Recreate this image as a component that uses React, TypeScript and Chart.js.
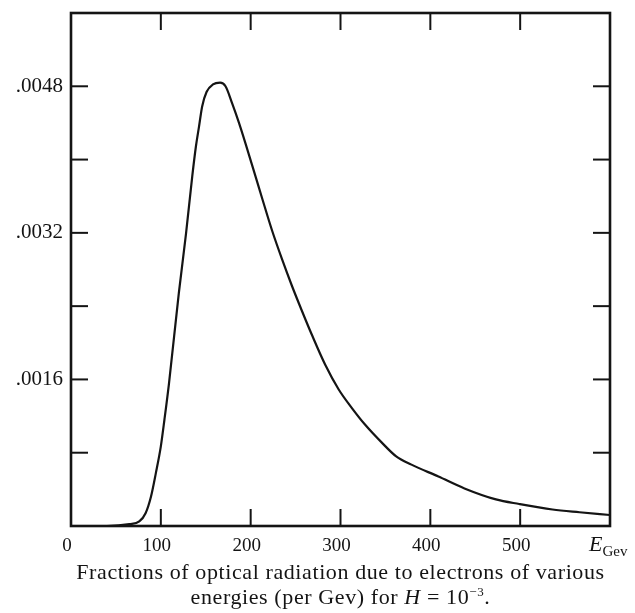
import React, { useEffect, useRef } from 'react';
import { Chart, registerables } from 'chart.js';

Chart.register(...registerables);

// Electron energy (GeV)
const energies = [0, 40, 65, 76, 83, 89, 94.5, 100, 104, 109, 120, 128, 135, 139, 142.5, 146, 151, 158, 166, 172, 179.5, 187, 201.6, 213, 224, 235, 246, 257, 268, 283, 298, 312.5, 327, 346, 362, 379, 409, 438, 473, 499, 536, 566, 600];
// Fraction of optical radiation (per GeV)
const fractions = [0, 0, 0.00002, 0.00005, 0.00014, 0.00032, 0.00058, 0.00087, 0.00116, 0.00155, 0.00254, 0.00319, 0.00382, 0.00414, 0.00436, 0.00458, 0.00474, 0.00482, 0.00484, 0.0048, 0.00461, 0.0044, 0.00394, 0.00357, 0.00322, 0.00291, 0.00262, 0.00235, 0.00209, 0.00176, 0.00149, 0.00129, 0.00111, 0.00091, 0.00076, 0.00067, 0.00054, 0.00041, 0.00029, 0.00024, 0.00018, 0.00015, 0.00012];

const xMax = 600;
const xStep = 100;
const yMax = 0.0056;
const yStep = 0.0008;
const yLabelled = [0.0016, 0.0032, 0.0048];

const INK = '#141414';
const SERIF = '"Liberation Serif", "DejaVu Serif", serif';

const framePlugin = {
  id: 'frame',
  afterDatasetsDraw(chart: any) {
    const { ctx, chartArea: a, scales } = chart;
    const xs = scales.x;
    const ys = scales.y;
    ctx.save();
    ctx.strokeStyle = INK;
    ctx.lineWidth = 2.6;
    ctx.strokeRect(a.left, a.top, a.right - a.left, a.bottom - a.top);
    ctx.lineWidth = 2;
    const len = 17;
    const seg = (x1: number, y1: number, x2: number, y2: number) => {
      ctx.beginPath();
      ctx.moveTo(x1, y1);
      ctx.lineTo(x2, y2);
      ctx.stroke();
    };
    xs.ticks.forEach((t: any) => {
      if (t.value <= xs.min + 1e-9 || t.value >= xs.max - 1e-9) return;
      const px = xs.getPixelForValue(t.value);
      seg(px, a.top, px, a.top + len);
      seg(px, a.bottom, px, a.bottom - len);
    });
    ys.ticks.forEach((t: any) => {
      if (t.value <= ys.min + 1e-9 || t.value >= ys.max - 1e-9) return;
      const py = ys.getPixelForValue(t.value);
      seg(a.left, py, a.left + len, py);
      seg(a.right, py, a.right - len, py);
    });
    ctx.restore();
  },
};

export default function App() {
  const ref = useRef<HTMLCanvasElement | null>(null);

  useEffect(() => {
    if (!ref.current) return;
    const chart = new Chart(ref.current, {
      type: 'line',
      data: {
        datasets: [
          {
            data: energies.map((e, i) => ({ x: e, y: fractions[i] })),
            borderColor: INK,
            borderWidth: 2.2,
            pointRadius: 0,
            fill: false,
            cubicInterpolationMode: 'monotone',
          },
        ],
      },
      options: {
        responsive: false,
        animation: false,
        layout: { padding: { left: 0, top: 13, right: 25, bottom: 47 } },
        plugins: { legend: { display: false }, tooltip: { enabled: false } },
        scales: {
          x: {
            type: 'linear',
            min: 0,
            max: xMax,
            grid: { display: false, drawTicks: false },
            border: { display: false },
            afterFit: (s: any) => {
              s.height = 40;
              s.paddingLeft = 0;
              s.paddingRight = 0;
            },
            ticks: {
              stepSize: xStep,
              padding: 9,
              labelOffset: -4,
              color: INK,
              font: { family: SERIF, size: 19 },
              callback: (v: any) => (Number(v) >= xMax ? '' : String(v)),
            },
          },
          y: {
            type: 'linear',
            min: 0,
            max: yMax,
            grid: { display: false, drawTicks: false },
            border: { display: false },
            afterFit: (s: any) => {
              s.width = 71;
              s.paddingTop = 0;
              s.paddingBottom = 0;
            },
            ticks: {
              stepSize: yStep,
              padding: 8,
              color: INK,
              font: { family: SERIF, size: 21 },
              callback: (v: any) => {
                const n = Number(v);
                const hit = yLabelled.some((l) => Math.abs(l - n) < 1e-9);
                return hit ? '.' + String(Math.round(n * 10000)).padStart(4, '0') : '';
              },
            },
          },
        },
      },
      plugins: [framePlugin],
    } as any);
    return () => chart.destroy();
  }, []);

  return (
    <div style={{ position: 'fixed', left: 0, top: 0, width: 635, height: 613, background: '#fff', fontFamily: SERIF, color: INK }}>
      <canvas ref={ref} width={635} height={613} style={{ position: 'absolute', left: 0, top: 0 }} />
      <div style={{ position: 'absolute', left: 589, top: 531, fontSize: 22, whiteSpace: 'nowrap' }}>
        <i>E</i>
        <sub style={{ fontSize: 15 }}>Gev</sub>
      </div>
      <div
        style={{
          position: 'absolute',
          left: 40,
          top: 559,
          width: 601,
          textAlign: 'center',
          fontSize: 22,
          lineHeight: '25px',
          letterSpacing: 0.6,
          whiteSpace: 'nowrap',
        }}
      >
        Fractions of optical radiation due to electrons of various
        <br />
        energies (per Gev) for <i>H</i> = 10<sup style={{ fontSize: 13, lineHeight: 0 }}>−3</sup>.
      </div>
    </div>
  );
}
